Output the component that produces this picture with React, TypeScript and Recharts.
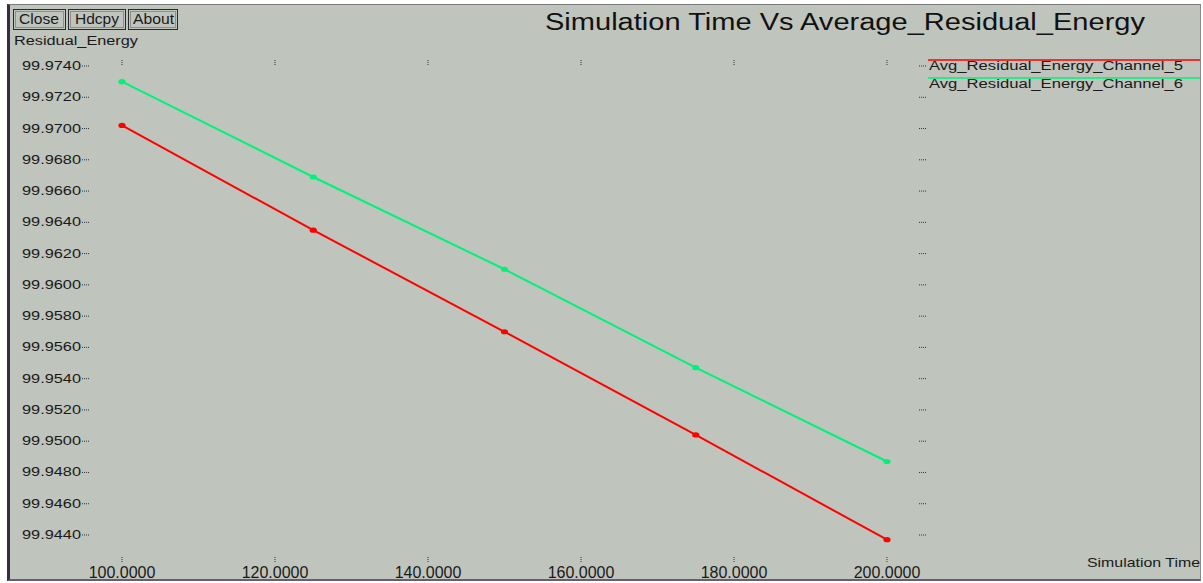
import React from "react";
import { LineChart, Line, XAxis, YAxis, Legend } from "recharts";

const simTime = [100, 125, 150, 175, 200];
const channel5 = [99.9702, 99.9635, 99.957, 99.9504, 99.9437];
const channel6 = [99.973, 99.9669, 99.961, 99.9547, 99.9487];

const xTicks = [100, 120, 140, 160, 180, 200];
const yTicks = [
    99.944, 99.946, 99.948, 99.95, 99.952, 99.954, 99.956, 99.958, 99.96, 99.962, 99.964,
    99.966, 99.968, 99.97, 99.972, 99.974,
];

const seriesNames = ["Avg_Residual_Energy_Channel_5", "Avg_Residual_Energy_Channel_6"];

const RED = "#ff0000";
const GREEN = "#00f27a";
const BG = "#bfc4bc";
const FONT = "'Liberation Sans', Arial, sans-serif";

const data = simTime.map((t, i) => ({ t, ch5: channel5[i], ch6: channel6[i] }));

// xgraph-like dotted tick marks drawn inwards from the frame
const BottomTick = (props: any) => {
    const { x, y, payload } = props;
    return (
        <g>
            <line x1={x} x2={x} y1={y - 5} y2={y} stroke="#333" strokeDasharray="1 1" />
            <text x={x} y={y + 16} textAnchor="middle" fontFamily={FONT} fontSize={16} fill="#1a1a1a">
                {Number(payload.value).toFixed(4)}
            </text>
        </g>
    );
};

const TopTick = (props: any) => {
    const { x, y } = props;
    return <line x1={x} x2={x} y1={y} y2={y + 5} stroke="#333" strokeDasharray="1 1" />;
};

const LeftTick = (props: any) => {
    const { x, y, payload } = props;
    return (
        <g>
            <line x1={x} x2={x + 7} y1={y} y2={y} stroke="#333" strokeDasharray="1 1" />
            <g transform={`translate(${x - 1},${y + 4})`}>
                <text transform="scale(1.36,1)" textAnchor="end" fontFamily={FONT} fontSize={12} fill="#1a1a1a">
                    {Number(payload.value).toFixed(4)}
                </text>
            </g>
        </g>
    );
};

const RightTick = (props: any) => {
    const { x, y } = props;
    return <line x1={x - 7} x2={x} y1={y} y2={y} stroke="#333" strokeDasharray="1 1" />;
};

const makeDot = (color: string) => (props: any) => {
    const { cx, cy, index } = props;
    return <ellipse key={index} cx={cx} cy={cy} rx={3.6} ry={2.6} fill={color} />;
};

const LegendBox = () => {
    const colors = [RED, GREEN];
    return (
        <svg width={275} height={40}>
            {seriesNames.map((name, i) => (
                <g key={name}>
                    <line x1={0} x2={272} y1={5 + i * 18} y2={5 + i * 18} stroke={colors[i]} strokeWidth={1.5} />
                    <text
                        x={1}
                        y={15 + i * 18}
                        fontFamily={FONT}
                        fontSize={12}
                        fill="#1a1a1a"
                        textLength={254}
                        lengthAdjust="spacingAndGlyphs"
                    >
                        {name}
                    </text>
                </g>
            ))}
        </svg>
    );
};

const buttons = [
    { label: "Close", x0: 13, x1: 65, tx: 19, tw: 40 },
    { label: "Hdcpy", x0: 68, x1: 125, tx: 75, tw: 44 },
    { label: "About", x0: 128, x1: 177, tx: 133, tw: 41 },
];

export default function App() {
    const xDomain = [94.771, 205.098];
    const yDomain = [99.942272, 99.974384];
    return (
        <div style={{ position: "absolute", left: 0, top: 0, width: 1203, height: 583, background: "#fff", overflow: "hidden" }}>
            <div
                style={{
                    position: "absolute",
                    left: 7,
                    top: 4,
                    width: 1190,
                    height: 574,
                    background: BG,
                    borderLeft: "3px solid #3b2a47",
                    borderTop: "1px solid #7a7a7a",
                    borderRight: "1px solid #8a8a8a",
                    borderBottom: "2px solid #6b5c72",
                }}
            />
            <div style={{ position: "absolute", left: 0, top: 0 }}>
                <LineChart width={1203} height={583} data={data} margin={{ top: 0, right: 0, bottom: 0, left: 0 }}>
                    <XAxis
                        dataKey="t"
                        type="number"
                        domain={xDomain}
                        ticks={xTicks}
                        allowDataOverflow
                        height={21}
                        tickSize={0}
                        tickMargin={0}
                        axisLine={false}
                        tickLine={false}
                        tick={<BottomTick />}
                        interval={0}
                    />
                    <XAxis
                        xAxisId="top"
                        orientation="top"
                        dataKey="t"
                        type="number"
                        domain={xDomain}
                        ticks={xTicks}
                        allowDataOverflow
                        height={60}
                        tickSize={0}
                        tickMargin={0}
                        axisLine={false}
                        tickLine={false}
                        tick={<TopTick />}
                        interval={0}
                    />
                    <YAxis
                        type="number"
                        domain={yDomain}
                        ticks={yTicks}
                        allowDataOverflow
                        width={82}
                        tickSize={0}
                        tickMargin={0}
                        axisLine={false}
                        tickLine={false}
                        tick={<LeftTick />}
                        interval={0}
                    />
                    <YAxis
                        yAxisId="right"
                        orientation="right"
                        type="number"
                        domain={yDomain}
                        ticks={yTicks}
                        allowDataOverflow
                        width={277}
                        tickSize={0}
                        tickMargin={0}
                        axisLine={false}
                        tickLine={false}
                        tick={<RightTick />}
                        interval={0}
                    />
                    <Legend
                        layout="horizontal"
                        verticalAlign="middle"
                        align="center"
                        wrapperStyle={{ position: "absolute", left: 928, top: 55, width: 275, height: 40 }}
                        content={<LegendBox />}
                    />
                    <Line
                        type="linear"
                        dataKey="ch5"
                        name={seriesNames[0]}
                        stroke={RED}
                        strokeWidth={2}
                        dot={makeDot(RED)}
                        activeDot={false}
                        isAnimationActive={false}
                    />
                    <Line
                        type="linear"
                        dataKey="ch6"
                        name={seriesNames[1]}
                        stroke={GREEN}
                        strokeWidth={2}
                        dot={makeDot(GREEN)}
                        activeDot={false}
                        isAnimationActive={false}
                    />
                </LineChart>
            </div>
            <svg width={1203} height={583} style={{ position: "absolute", left: 0, top: 0, pointerEvents: "none" }}>
                {buttons.map((b) => (
                    <g key={b.label}>
                        <rect x={b.x0 + 0.5} y={9.5} width={b.x1 - b.x0} height={20} fill="none" stroke="#2a2a2a" />
                        <rect x={b.x0 + 2.5} y={11.5} width={b.x1 - b.x0 - 4} height={16} fill="none" stroke="#8c8f8a" />
                        <text
                            x={b.tx}
                            y={23.5}
                            fontFamily={FONT}
                            fontSize={14}
                            fill="#1a1a1a"
                            textLength={b.tw}
                            lengthAdjust="spacingAndGlyphs"
                        >
                            {b.label}
                        </text>
                    </g>
                ))}
                <text
                    x={545}
                    y={30}
                    fontFamily={FONT}
                    fontSize={23}
                    fill="#111"
                    textLength={600}
                    lengthAdjust="spacingAndGlyphs"
                >
                    Simulation Time Vs Average_Residual_Energy
                </text>
                <text
                    x={14}
                    y={45}
                    fontFamily={FONT}
                    fontSize={12.5}
                    fill="#1a1a1a"
                    textLength={124}
                    lengthAdjust="spacingAndGlyphs"
                >
                    Residual_Energy
                </text>
                <text
                    x={1087}
                    y={567}
                    fontFamily={FONT}
                    fontSize={13}
                    fill="#1a1a1a"
                    textLength={113}
                    lengthAdjust="spacingAndGlyphs"
                >
                    Simulation Time
                </text>
            </svg>
        </div>
    );
}
